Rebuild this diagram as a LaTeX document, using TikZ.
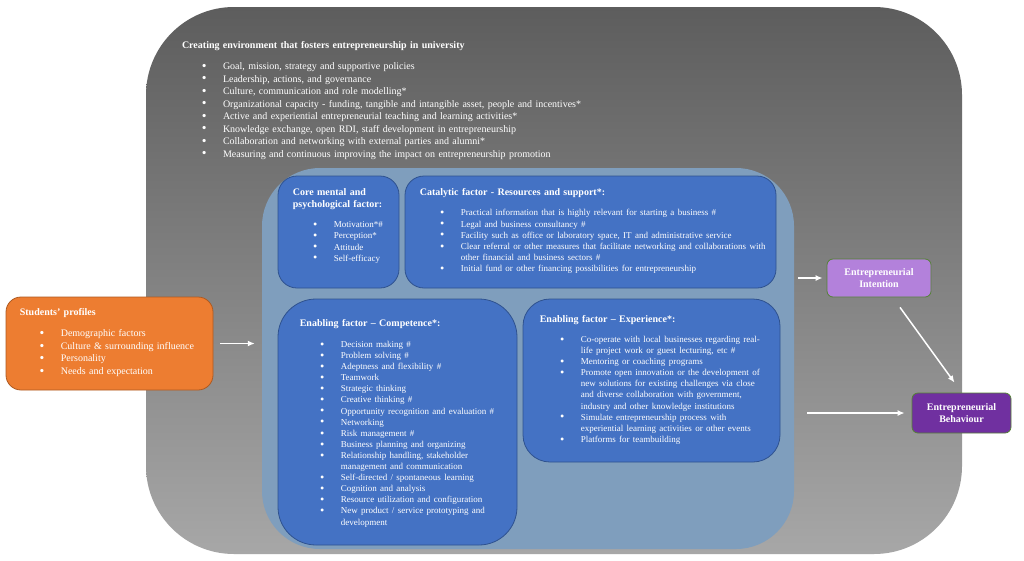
\documentclass[tikz,border=0pt]{standalone}
\usepackage{fontspec}
\setmainfont{Liberation Serif}
\usetikzlibrary{positioning,arrows.meta}
\definecolor{envtop}{HTML}{5D5D5D}
\definecolor{envbot}{HTML}{A7A7A7}
\definecolor{panelblue}{HTML}{7F9EBD}
\definecolor{factblue}{HTML}{4472C4}
\definecolor{factline}{HTML}{2F528F}
\definecolor{profile}{HTML}{ED7D31}
\definecolor{profileline}{HTML}{AE5A21}
\definecolor{intentfill}{HTML}{B381DB}
\definecolor{behavfill}{HTML}{7030A0}
\definecolor{outcomeline}{HTML}{548235}
\newcommand{\itemfont}{\fontsize{9}{11.1}\selectfont}
\newcommand{\bigitemfont}{\fontsize{10}{12.5}\selectfont}
\newcommand{\pointmark}{\raisebox{-0.2ex}{\scalebox{1.35}{\textbullet}}}
\newenvironment{pointlist}{\begin{list}{\pointmark}{\setlength{\leftmargin}{41pt}\setlength{\labelsep}{16.5pt}\setlength{\labelwidth}{24.5pt}\setlength{\topsep}{0pt}\setlength{\partopsep}{0pt}\setlength{\itemsep}{0pt}\setlength{\parsep}{0pt}}}{\end{list}}

\begin{document}
\begin{tikzpicture}[x=1pt, y=-1pt,
    factor/.style={draw=factline, fill=factblue, line width=0.8pt, inner sep=0pt},
    txt/.style={inner sep=0pt, anchor=north west, text=white, align=left, font=\fontsize{10}{12}\selectfont},
    outcome/.style={draw=outcomeline, line width=0.8pt, rounded corners=6pt, align=center, text=white, inner sep=0pt, font=\fontsize{10}{12}\selectfont\bfseries},
    arr/.style={-{Latex[length=7pt,width=6pt]}, draw=white, line width=1.5pt}
]
    \fill[white] (0,0) rectangle (1024,560);
    \useasboundingbox (0,0) rectangle (1024,560);

    % university environment and the factor panel
    \node[top color=envtop, bottom color=envbot, rounded corners=88pt, minimum width=816pt, minimum height=547pt, inner sep=0pt] (env) at (554,280.5) {};
    \node[fill=panelblue, rounded corners=58pt, minimum width=532pt, minimum height=381pt, inner sep=0pt] (panel) at (528,358.5) {};

    \node[factor, rounded corners=19pt, minimum width=121pt, minimum height=112pt] (core) at (338.5,232) {};
    \node[factor, rounded corners=19pt, minimum width=371pt, minimum height=112pt] (catal) at (590.5,232) {};
    \node[factor, rounded corners=38pt, minimum width=239pt, minimum height=246pt] (compet) at (397.5,422) {};
    \node[factor, rounded corners=27pt, minimum width=257pt, minimum height=163pt] (exper) at (651.5,380.5) {};
    \node[draw=profileline, fill=profile, line width=0.8pt, rounded corners=15pt, minimum width=207pt, minimum height=93pt, inner sep=0pt] (stud) at (109.5,343.5) {};
    \node[outcome, fill=intentfill, minimum width=104pt, minimum height=38pt] (intent) at (879,278) {Entrepreneurial\\Intention};
    \node[outcome, fill=behavfill, minimum width=99pt, minimum height=40pt] (behav) at (961.5,413) {Entrepreneurial\\Behaviour};

    % texts
    \node[txt, below right=34.5pt and 36pt of env.north west, text width=450pt] (envtxt) {\textbf{Creating environment that fosters entrepreneurship in university}\par\vspace{8.5pt}\bigitemfont
    \begin{pointlist}
        \item Goal, mission, strategy and supportive policies
        \item Leadership, actions, and governance
        \item Culture, communication and role modelling*
        \item Organizational capacity - funding, tangible and intangible asset, people and incentives*
        \item Active and experiential entrepreneurial teaching and learning activities*
        \item Knowledge exchange, open RDI, staff development in entrepreneurship
        \item Collaboration and networking with external parties and alumni*
        \item Measuring and continuous improving the impact on entrepreneurship promotion
    \end{pointlist}};

    \node[txt, below right=13pt and 15pt of core.north west, text width=104pt] (coretxt) {\textbf{Core mental and\\psychological factor:}\par\vspace{9pt}\itemfont
    \begin{pointlist}
        \item Motivation*\#
        \item Perception*
        \item Attitude
        \item Self-efficacy
    \end{pointlist}};

    \node[txt, below right=13pt and 15pt of catal.north west, text width=350pt] (cataltxt) {\textbf{Catalytic factor - Resources and support*:}\par\vspace{9pt}\itemfont
    \begin{pointlist}
        \item Practical information that is highly relevant for starting a business \#
        \item Legal and business consultancy \#
        \item Facility such as office or laboratory space, IT and administrative service
        \item Clear referral or other measures that facilitate networking and collaborations with\newline other financial and business sectors \#
        \item Initial fund or other financing possibilities for entrepreneurship
    \end{pointlist}};

    \node[txt, below right=21pt and 22pt of compet.north west, text width=212pt] (competxt) {\textbf{Enabling factor -- Competence*:}\par\vspace{9.5pt}\itemfont
    \begin{pointlist}
        \item Decision making \#
        \item Problem solving \#
        \item Adeptness and flexibility \#
        \item Teamwork
        \item Strategic thinking
        \item Creative thinking \#
        \item Opportunity recognition and evaluation \#
        \item Networking
        \item Risk management \#
        \item Business planning and organizing
        \item Relationship handling, stakeholder\newline management and communication
        \item Self-directed / spontaneous learning
        \item Cognition and analysis
        \item Resource utilization and configuration
        \item New product / service prototyping and\newline development
    \end{pointlist}};

    \node[txt, below right=16.5pt and 17pt of exper.north west, text width=236pt] (expertxt) {\textbf{Enabling factor -- Experience*:}\par\vspace{9pt}\itemfont
    \begin{pointlist}
        \item Co-operate with local businesses regarding real-\newline life project work or guest lecturing, etc \#
        \item Mentoring or coaching programs
        \item Promote open innovation or the development of\newline new solutions for existing challenges via close\newline and diverse collaboration with government,\newline industry and other knowledge institutions
        \item Simulate entrepreneurship process with\newline experiential learning activities or other events
        \item Platforms for teambuilding
    \end{pointlist}};

    \node[txt, below right=12pt and 14pt of stud.north west, text width=190pt] (studtxt) {\textbf{Students’ profiles}\par\vspace{8.5pt}\bigitemfont
    \begin{pointlist}
        \item Demographic factors
        \item Culture \& surrounding influence
        \item Personality
        \item Needs and expectation
    \end{pointlist}};

    % arrows
    \draw[arr, shorten <=7pt, shorten >=7pt] (stud.east) -- (stud.east -| panel.west);
    \draw[arr, shorten <=4pt, shorten >=4pt] (panel.east |- intent.west) -- (intent.west);
    \draw[arr, shorten <=13pt, shorten >=7pt] (panel.east |- behav.west) -- (behav.west);
    \draw[arr] ([xshift=21pt,yshift=-10pt]intent.south) -- ([xshift=-7pt,yshift=10pt]behav.north);
\end{tikzpicture}
\end{document}
